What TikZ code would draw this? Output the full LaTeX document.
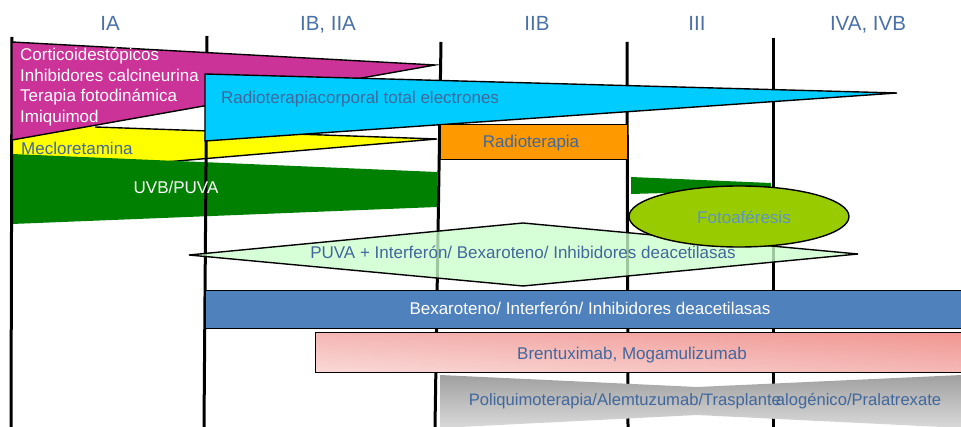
\documentclass[tikz,border=0pt]{standalone}
\usepackage{fontspec}
\setmainfont{Liberation Sans}
\usetikzlibrary{shapes.geometric}
\definecolor{txtblue}{HTML}{41679C}
\definecolor{hdrblue}{HTML}{4A70A8}
\definecolor{magentaA}{HTML}{CC3399}
\definecolor{cyanA}{HTML}{00CCFF}
\definecolor{yellowA}{HTML}{FFFF00}
\definecolor{greenA}{HTML}{008000}
\definecolor{orangeA}{HTML}{FF9900}
\definecolor{limeA}{HTML}{99CC00}
\definecolor{mintA}{HTML}{CCFFCC}
\definecolor{barblue}{HTML}{4F81BD}
\definecolor{pinkTop}{HTML}{F2A19D}
\definecolor{pinkBot}{HTML}{FBE0DF}
\definecolor{pinkL}{HTML}{F8D3D2}
\definecolor{pinkR}{HTML}{EF8B86}
\definecolor{grayTop}{HTML}{A0A0A0}
\definecolor{grayBot}{HTML}{DADADA}
\definecolor{fotoblue}{HTML}{5E93C6}
\tikzset{
  stage/.style={line width=3pt, black},
  outl/.style={draw=black, line width=1.4pt, line join=miter},
  hdr/.style={text=hdrblue, font=\fontsize{20.5}{24}\selectfont, anchor=base},
  lbl/.style={inner sep=0pt, font=\fontsize{17}{20}\selectfont},
}
\begin{document}
\begin{tikzpicture}[x=1pt,y=-1pt]
\useasboundingbox (0,0) rectangle (961,427);

% headers
\node[hdr] (hIA)  at (110,31) {IA};
\node[hdr] (hIB)  at (328,31) {IB, IIA};
\node[hdr] (hIIB) at (537,31) {IIB};
\node[hdr] (hIII) at (697,31) {III};
\node[hdr] (hIV)  at (868,31) {IVA, IVB};

% yellow and green (under the stage lines)
\fill[yellowA] (12,124) -- (437,139) -- (12,175) -- cycle;
\draw[outl] (95,127) -- (437,139) -- (12,175);
\fill[greenA] (12,154) -- (437,172) -- (437,207) -- (12,224) -- cycle;

% stage lines
\coordinate (l1t) at (12,37);  \coordinate (l1b) at (11,427);
\coordinate (l2t) at (207,36); \coordinate (l2b) at (204,427);
\coordinate (l3t) at (441,42); \coordinate (l3b) at (435,427);
\coordinate (l4t) at (627,42); \coordinate (l4b) at (628,427);
\coordinate (l5t) at (773,38); \coordinate (l5b) at (773,427);
\draw[stage] (l1t) -- (l1b);
\draw[stage] (l2t) -- (l2b);
\draw[stage] (l3t) -- (l3b);
\draw[stage] (l4t) -- (l4b);
\draw[stage] (l5t) -- (l5b);

% magenta
\filldraw[outl, fill=magentaA] (12,42) -- (435,65) -- (12,140) -- cycle;
\node[lbl, text=white, anchor=base west] (t1) at (20,61)  {Corticoidestópicos};
\node[lbl, text=white, anchor=base west] (t2) at (20,82)  {Inhibidores calcineurina};
\node[lbl, text=white, anchor=base west] (t3) at (20,102) {Terapia fotodinámica};
\node[lbl, text=white, anchor=base west] (t4) at (20,123) {Imiquimod};

\node[lbl, text=txtblue, anchor=base west] (meclo) at (21,155) {Mecloretamina};
\node[lbl, text=white, anchor=base] (uvb) at (176,194) {UVB/PUVA};

% cyan
\filldraw[outl, fill=cyanA] (205,74) -- (897,93) -- (205,141) -- cycle;
\node[lbl, text=txtblue, anchor=base west] (rtc) at (221,104) {Radioterapiacorporal total electrones};

% orange
\node[draw=black, line width=1pt, fill=orangeA, minimum width=187pt, minimum height=35pt, inner sep=0pt] (orange) at (533.5,142.5) {};
\node[lbl, text=txtblue, anchor=base] (rt) at (531,148) {Radioterapia};

% green piece
\fill[greenA] (631,177) -- (771,183) -- (771,190) -- (631,194) -- cycle;

% diamond
\filldraw[outl, fill=mintA, fill opacity=0.78] (189,255) -- (523,223) -- (858,254) -- (523,286) -- cycle;
\node[lbl, text=txtblue, anchor=base] (puva) at (523,259) {PUVA + Interferón/ Bexaroteno/ Inhibidores deacetilasas};

% ellipse
\node[ellipse, draw=black, line width=1.4pt, fill=limeA, minimum width=220pt, minimum height=61pt, inner sep=0pt] (foto) at (739,216.5) {};
\node[lbl, text=fotoblue, anchor=base] (fototxt) at (744,224) {Fotoaféresis};

% blue bar
\filldraw[draw=black, line width=1pt, fill=barblue] (205,291) rectangle (962,329);
\node[lbl, text=white, anchor=base] (bex) at (590,315) {Bexaroteno/ Interferón/ Inhibidores deacetilasas};

% pink bar
\shade[top color=pinkTop, bottom color=pinkBot] (315,333) rectangle (962,373);
\shade[left color=pinkL, right color=pinkR, opacity=0.45] (315,333) rectangle (962,373);
\draw[black, line width=1pt] (962,333) -- (315,333) -- (315,373) -- (962,373);
\node[lbl, text=txtblue, anchor=base] (bren) at (632,360) {Brentuximab, Mogamulizumab};

% gray bowtie
\shade[top color=grayTop, bottom color=grayBot] (440,375) -- (697,387) -- (962,375) -- (962,428) -- (697,415) -- (440,428) -- cycle;
\node[lbl, text=txtblue, anchor=base, font=\fontsize{16.6}{20}\selectfont] (poli) at (705,406) {Poliquimoterapia/Alemtuzumab/Trasplante\kern-0.3em alogénico/Pralatrexate};
\end{tikzpicture}
\end{document}
